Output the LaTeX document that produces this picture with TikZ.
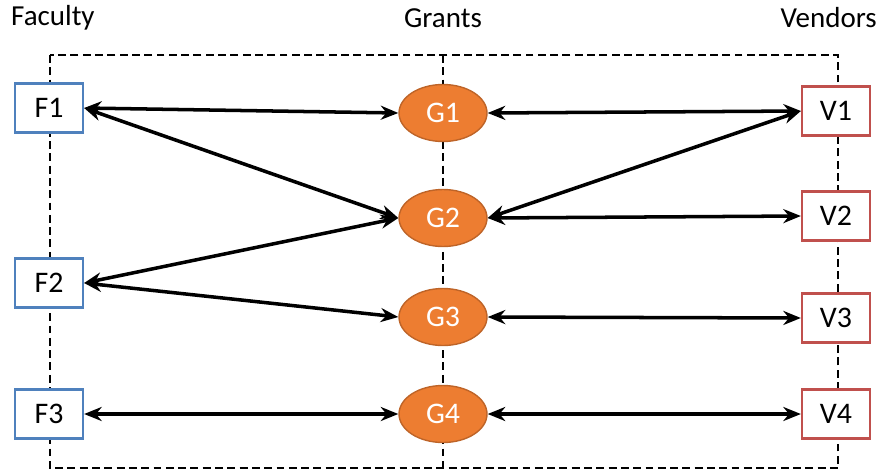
\documentclass[tikz,border=0pt]{standalone}
\usepackage{fontspec}
\setmainfont{Carlito}
\usetikzlibrary{arrows.meta,shapes.geometric}
\definecolor{fblue}{RGB}{79,129,189}
\definecolor{vred}{RGB}{192,80,77}
\definecolor{gfill}{RGB}{237,125,49}
\definecolor{gedge}{RGB}{190,100,40}
\begin{document}
\begin{tikzpicture}[x=0.02cm,y=-0.02cm,
  fbox/.style={draw=fblue,line width=1.3pt,fill=white,minimum width=1.36cm,minimum height=0.98cm,font=\fontsize{17}{20}\selectfont,inner sep=0pt},
  vbox/.style={draw=vred,line width=1.3pt,fill=white,minimum width=1.36cm,minimum height=0.98cm,font=\fontsize{17}{20}\selectfont,inner sep=0pt},
  gnode/.style={ellipse,draw=gedge,line width=0.8pt,fill=gfill,minimum width=1.76cm,minimum height=1.14cm,inner sep=0pt,text=white,font=\fontsize{17}{20}\selectfont},
  head/.style={font=\fontsize{16.5}{20}\selectfont},
  frame/.style={line width=1.6pt,dash pattern=on 4.5pt off 2.5pt},
  link/.style={{Stealth[length=10pt,width=8pt]}-{Stealth[length=10pt,width=8pt]},line width=2pt}]
\useasboundingbox (0,0) rectangle (885,474);
\draw[frame] (50,55) rectangle (838,468);
\draw[frame] (443,55) -- (443,468);
\node[head,anchor=west] (hf) at (5,18) {Faculty};
\node[head] (hg) at (443,18) {Grants};
\node[head,anchor=east] (hv) at (883,18) {Vendors};
\node[fbox] (F1) at (49,108) {F1};
\node[fbox] (F2) at (49,283) {F2};
\node[fbox] (F3) at (49,414) {F3};
\node[gnode] (G1) at (443,113) {G1};
\node[gnode] (G2) at (443,218) {G2};
\node[gnode] (G3) at (443,317) {G3};
\node[gnode] (G4) at (443,414) {G4};
\node[vbox] (V1) at (836,111) {V1};
\node[vbox] (V2) at (836,216) {V2};
\node[vbox] (V3) at (836,318) {V3};
\node[vbox] (V4) at (836,414) {V4};
\draw[link] (F1.east) -- (G1.west);
\draw[link] (F1.east) -- (G2.west);
\draw[link] (F2.east) -- (G2.west);
\draw[link] (F2.east) -- (G3.west);
\draw[link] (F3.east) -- (G4.west);
\draw[link] (G1.east) -- (V1.west);
\draw[link] (G2.east) -- (V1.west);
\draw[link] (G2.east) -- (V2.west);
\draw[link] (G3.east) -- (V3.west);
\draw[link] (G4.east) -- (V4.west);
\end{tikzpicture}
\end{document}
